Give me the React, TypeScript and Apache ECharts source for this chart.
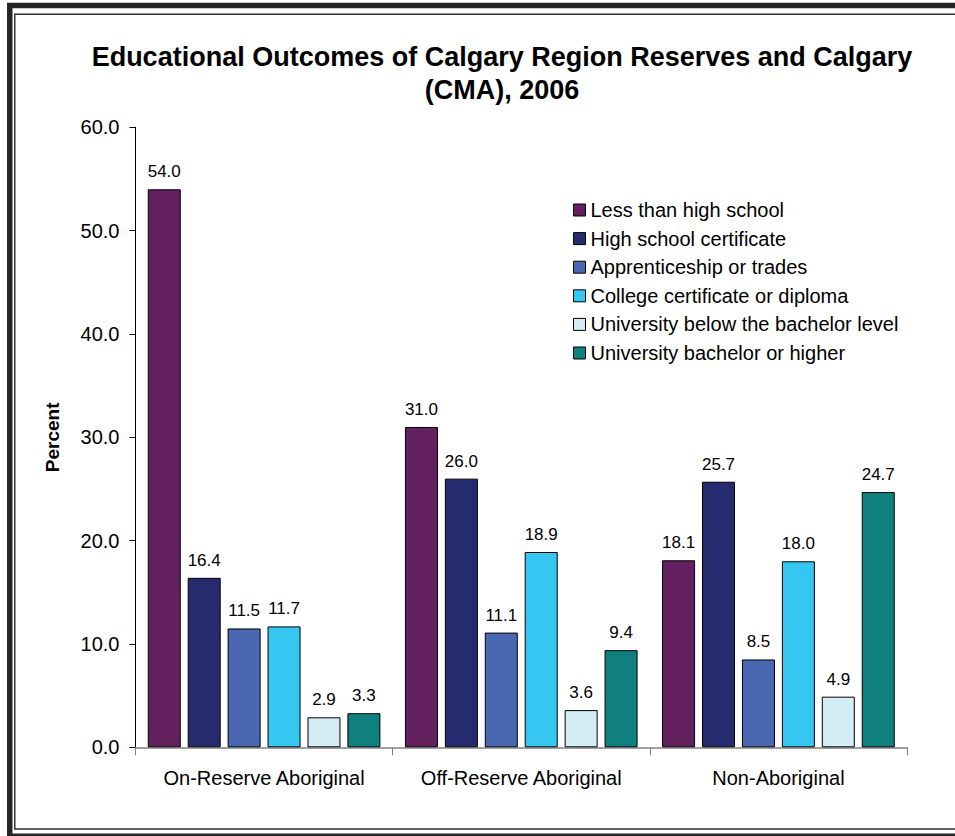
import React, { useEffect, useRef } from "react";
import * as echarts from "echarts";

const categories = ["On-Reserve Aboriginal", "Off-Reserve Aboriginal", "Non-Aboriginal"];
const seriesNames = [
  "Less than high school",
  "High school certificate",
  "Apprenticeship or trades",
  "College certificate or diploma",
  "University below the bachelor level",
  "University bachelor or higher",
];
const lessThanHighSchool = [54.0, 31.0, 18.1];
const highSchool = [16.4, 26.0, 25.7];
const apprenticeship = [11.5, 11.1, 8.5];
const college = [11.7, 18.9, 18.0];
const univBelowBachelor = [2.9, 3.6, 4.9];
const univBachelor = [3.3, 9.4, 24.7];
const seriesValues = [lessThanHighSchool, highSchool, apprenticeship, college, univBelowBachelor, univBachelor];
const colors = ["#63205F", "#262A6E", "#4A68B1", "#35C6F2", "#D4ECF4", "#0F807E"];

const FONT = "'Liberation Sans', Arial, Helvetica, sans-serif";

export default function App() {
  const ref = useRef<HTMLDivElement>(null);
  useEffect(() => {
    if (!ref.current) return;
    const chart = echarts.init(ref.current, null, { renderer: "svg" });
    chart.setOption({
      animation: false,
      backgroundColor: "#ffffff",
      textStyle: { fontFamily: FONT },
      graphic: [
        {
          type: "rect",
          z: -10,
          shape: { x: 9.75, y: 5.5, width: 1000, height: 830.8 },
          style: { fill: "none", stroke: "#262626", lineWidth: 5.5 },
        },
        {
          type: "rect",
          z: -10,
          shape: { x: 14.75, y: 14.25, width: 1000, height: 814.75 },
          style: { fill: "none", stroke: "#333333", lineWidth: 1.5 },
        },
        {
          type: "text",
          style: {
            text: "Educational Outcomes of Calgary Region Reserves and Calgary",
            x: 502,
            y: 57,
            align: "center",
            verticalAlign: "middle",
            fontSize: 27,
            fontWeight: "bold",
            fontFamily: FONT,
            fill: "#000",
          },
        },
        {
          type: "text",
          style: {
            text: "(CMA), 2006",
            x: 502,
            y: 90,
            align: "center",
            verticalAlign: "middle",
            fontSize: 27,
            fontWeight: "bold",
            fontFamily: FONT,
            fill: "#000",
          },
        },
      ],
      legend: {
        orient: "vertical",
        left: 568,
        top: 195,
        itemWidth: 12,
        itemHeight: 12,
        itemGap: 8.6,
        icon: "rect",
        data: seriesNames,
        textStyle: { fontSize: 20, color: "#000", fontFamily: FONT },
        itemStyle: { borderColor: "#000", borderWidth: 1 },
      },
      grid: { left: 135.5, right: 48, top: 127.3, bottom: 88.7, containLabel: false },
      xAxis: {
        type: "category",
        data: categories,
        axisLine: { lineStyle: { color: "#808080", width: 1.5 } },
        axisTick: { show: true, length: 8, lineStyle: { color: "#808080" } },
        axisLabel: { interval: 0, fontSize: 20, color: "#000", margin: 21, fontFamily: FONT },
      },
      yAxis: {
        type: "value",
        min: 0,
        max: 60,
        interval: 10,
        name: "Percent",
        nameLocation: "middle",
        nameRotate: 90,
        nameGap: 73.5,
        nameTextStyle: { fontSize: 19, fontWeight: "bold", color: "#000", fontFamily: FONT },
        axisLine: { show: true, lineStyle: { color: "#000", width: 1 } },
        axisTick: { show: true, length: 6, lineStyle: { color: "#000" } },
        splitLine: { show: false },
        axisLabel: {
          fontSize: 20,
          color: "#000",
          margin: 16,
          fontFamily: FONT,
          formatter: (v: number) => v.toFixed(1),
        },
      },
      series: seriesNames.map((name, i) => ({
        name,
        type: "bar",
        data: seriesValues[i],
        barWidth: 33,
        barGap: "21%",
        itemStyle: { color: colors[i], borderColor: "#000", borderWidth: 1 },
        label: {
          show: true,
          position: "top",
          distance: 9,
          fontSize: 17,
          color: "#000",
          fontFamily: FONT,
          formatter: (p: any) => Number(p.value).toFixed(1),
        },
      })),
    });
    return () => chart.dispose();
  }, []);
  return (
    <div
      ref={ref}
      style={{ position: "fixed", left: 0, top: 0, width: 955, height: 836 }}
    />
  );
}
